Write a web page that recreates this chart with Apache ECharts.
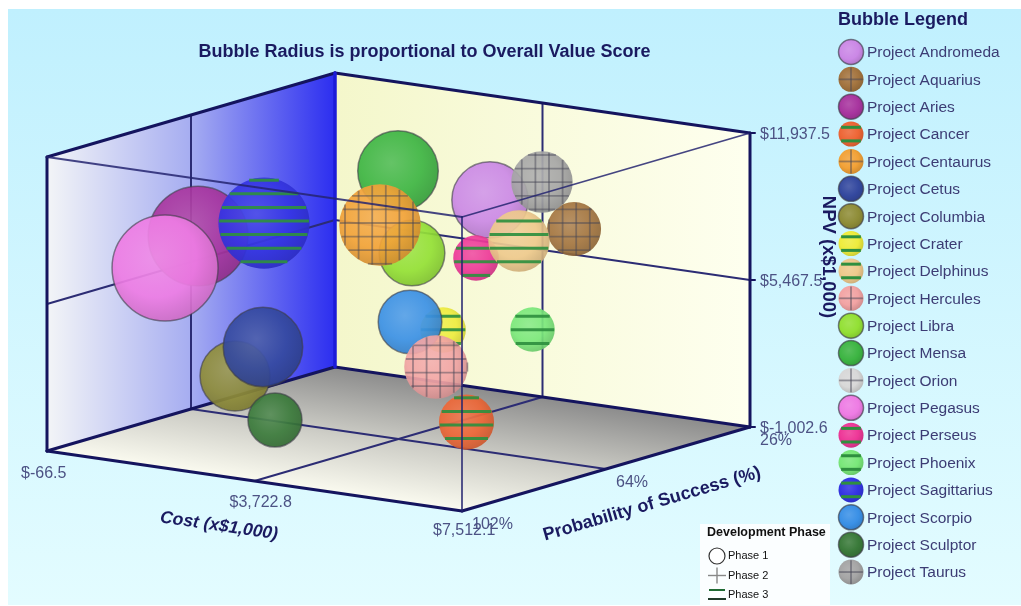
<!DOCTYPE html>
<html>
<head>
<meta charset="utf-8">
<style>html,body{margin:0;padding:0;background:#fff}#chart{width:1021px;height:606px}</style>
<script src="https://cdn.jsdelivr.net/npm/echarts@6/dist/echarts.min.js"></script>
</head>
<body>
<div id="chart"></div>
<script>
// Portfolio records; Orion has no plotted position.
var projects = ['Project Andromeda','Project Aquarius','Project Aries','Project Cancer','Project Centaurus','Project Cetus','Project Columbia','Project Crater','Project Delphinus','Project Hercules','Project Libra','Project Mensa','Project Orion','Project Pegasus','Project Perseus','Project Phoenix','Project Sagittarius','Project Scorpio','Project Sculptor','Project Taurus'];
var cost   = [3871, 5960,   62, 5380, 3108, 1663, 1014, 3429, 5370, 4408, 2585, 2053, null,  290, 3893, 5478, 1820, 3518, 2159, 5512];
var prob   = [  42,   50,   64,   70,   60,   70,   68,   48,   56,   64,   44,   40, null,   76,   46,   54,   72,   58,   74,   52];
var npv    = [8500, 8337, 6655,  612, 8007, 2619, 1022, 2914, 7897, 2404, 5815, 9044, null, 5912, 6146, 3940, 8227, 3786, -224,10348];
var score  = [  72,   51,   94,   52,   77,   75,   66,   43,   58,   60,   62,   76, null,  100,   43,   42,   86,   60,   51,   58];
var phase  = [   1,    2,    1,    3,    2,    1,    1,    3,    3,    2,    1,    1,    2,    1,    3,    3,    3,    1,    1,    2];
var colors = ['#cb88e6','#a47540','#a8359f','#ee6636','#f2a238','#34499f','#8f8d38','#eeec3e','#eec98c','#f2a4a4','#93e035','#3db543','#d8d8d8','#ee7ce4','#ee3898','#7ae87a','#3434e4','#3a90e6','#3a7a3a','#a6a6a6'];

var costTicks = [-66.5, 3722.8, 7512.1];
var probTicks = [26, 64, 102];
var npvTicks  = [-1002.6, 5467.5, 11937.5];
var phaseNames = ['Phase 1','Phase 2','Phase 3'];

var NAVY = '#14145e', LABEL = '#4c5284', TITLE = '#1a1a60', FONT = '"Liberation Sans", Arial, sans-serif';

// Fixed oblique view of the value cube: each unit axis maps onto a plane vector.
function project(c, p, n) {
  var u = (c - costTicks[0]) / (costTicks[2] - costTicks[0]);
  var v = (probTicks[2] - p) / (probTicks[2] - probTicks[0]);
  var w = (n - npvTicks[0]) / (npvTicks[2] - npvTicks[0]);
  return [47 + 415 * u + 288 * v, 451 + 60 * u - 84 * v - 294 * w];
}
function money(v) {
  var s = Math.abs(v).toFixed(1).replace(/\B(?=(\d{3})(?!\d))/g, ',');
  return '$' + (v < 0 ? '-' : '') + s;
}
function mix(hex, target, t) {
  var a = echarts.color.parse(hex), b = echarts.color.parse(target);
  return 'rgb(' + [0, 1, 2].map(function (i) { return Math.round(a[i] + (b[i] - a[i]) * t); }).join(',') + ')';
}

// Pattern lines crossing a circle, anchored to a shared lattice so neighbouring balls line up.
function chords(cx, cy, r, anchor, step, center, makeLine) {
  var k = Math.ceil((center - r - anchor) / step);
  for (; anchor + k * step < center + r; k++) {
    var d = anchor + k * step - center;
    var half = Math.sqrt(Math.max(0, r * r - d * d)) - 0.6;
    if (half > 1) makeLine(d, half);
  }
}

// A shaded ball: phase 1 plain, phase 2 cross-hatched, phase 3 banded.
function ball(cx, cy, r, color, ph, alpha, step, ax, ay) {
  var kids = [{
    type: 'circle', shape: { cx: cx, cy: cy, r: r },
    style: {
      fill: new echarts.graphic.RadialGradient(0.42, 0.4, 0.62, [
        { offset: 0, color: mix(color, '#ffffff', 0.14) },
        { offset: 0.6, color: color },
        { offset: 1, color: mix(color, '#000000', 0.14) }
      ]),
      stroke: ph === 1 ? 'rgba(60,60,70,0.65)' : null,
      lineWidth: ph === 1 ? 1.5 : 0,
      opacity: alpha
    }
  }];
  if (ph === 1) return kids;
  var ink = ph === 3 ? '#2f8f3f' : 'rgba(70,70,85,0.5)';
  var width = ph === 3 ? 3 : 1.8;
  chords(cx, cy, r, ay, step, cy, function (d, half) {
    kids.push({ type: 'line', shape: { x1: cx - half, y1: cy + d, x2: cx + half, y2: cy + d }, style: { stroke: ink, lineWidth: width, opacity: alpha } });
  });
  if (ph === 2) {
    chords(cx, cy, r, ax, step, cx, function (d, half) {
      kids.push({ type: 'line', shape: { x1: cx + d, y1: cy - half, x2: cx + d, y2: cy + half }, style: { stroke: ink, lineWidth: width, opacity: alpha } });
    });
  }
  return kids;
}

function segment(api, a, b, color, width) {
  var p = api.coord(a), q = api.coord(b);
  return { type: 'line', shape: { x1: p[0], y1: p[1], x2: q[0], y2: q[1] }, style: { stroke: color, lineWidth: width, lineCap: 'round' } };
}
function poly(api, pts, fill) {
  return { type: 'polygon', shape: { points: pts.map(function (d) { return api.coord(d); }) }, style: { fill: fill } };
}
function label(x, y, text, font, fill, rot, align) {
  return { type: 'text', x: x, y: y, rotation: rot || 0, style: { text: text, font: font, fill: fill, textAlign: align || 'left', textVerticalAlign: 'middle' } };
}

var cMin = costTicks[0], cMid = costTicks[1], cMax = costTicks[2];
var pBack = probTicks[0], pMid = probTicks[1], pFront = probTicks[2];
var nMin = npvTicks[0], nMid = npvTicks[1], nMax = npvTicks[2];

function renderCube(params, api) {
  var G = echarts.graphic, kids = [];
  kids.push(poly(api, [project(cMin, pFront, nMin), project(cMin, pBack, nMin), project(cMin, pBack, nMax), project(cMin, pFront, nMax)],
    new G.LinearGradient(0, 0, 1, 0, [{ offset: 0, color: '#f3f5f7' }, { offset: 0.5, color: '#a6adf1' }, { offset: 1, color: '#2c2ef0' }])));
  kids.push(poly(api, [project(cMin, pBack, nMin), project(cMax, pBack, nMin), project(cMax, pBack, nMax), project(cMin, pBack, nMax)],
    new G.LinearGradient(0, 0, 1, 0, [{ offset: 0, color: '#f4f7cb' }, { offset: 1, color: '#feffef' }])));

  // Floor shading runs from the back edge towards the viewer, square to that edge.
  var g0 = api.coord(project(cMin, pBack, nMin));
  var g1 = [g0[0] - 18, g0[1] + 124];
  kids.push(poly(api, [project(cMin, pFront, nMin), project(cMax, pFront, nMin), project(cMax, pBack, nMin), project(cMin, pBack, nMin)],
    new G.LinearGradient(g0[0], g0[1], g1[0], g1[1], [{ offset: 0, color: '#8c8c8c' }, { offset: 0.55, color: '#cfcfc8' }, { offset: 1, color: '#fbfbf0' }], true)));

  // Mid-value rules across walls and floor
  var rule = '#2c2c74';
  [[[cMid, pFront, nMin], [cMid, pBack, nMin]], [[cMin, pMid, nMin], [cMax, pMid, nMin]],
   [[cMin, pMid, nMin], [cMin, pMid, nMax]], [[cMin, pFront, nMid], [cMin, pBack, nMid]],
   [[cMid, pBack, nMin], [cMid, pBack, nMax]], [[cMin, pBack, nMid], [cMax, pBack, nMid]]].forEach(function (s) {
    kids.push(segment(api, project.apply(null, s[0]), project.apply(null, s[1]), rule, 2));
  });

  // Heavy cube outline
  [[[cMin, pFront, nMin], [cMin, pFront, nMax]], [[cMin, pFront, nMax], [cMin, pBack, nMax]], [[cMin, pBack, nMax], [cMax, pBack, nMax]],
   [[cMax, pBack, nMax], [cMax, pBack, nMin]], [[cMin, pFront, nMin], [cMax, pFront, nMin]], [[cMax, pFront, nMin], [cMax, pBack, nMin]],
   [[cMax, pBack, nMin], [cMin, pBack, nMin]], [[cMin, pBack, nMin], [cMin, pFront, nMin]]].forEach(function (s) {
    kids.push(segment(api, project.apply(null, s[0]), project.apply(null, s[1]), NAVY, 3));
  });
  kids.push(segment(api, project(cMin, pBack, nMin), project(cMin, pBack, nMax), '#1c1cd8', 3.5));
  return { type: 'group', children: kids };
}

function renderBubble(params, api) {
  var i = api.value(5);
  var at = api.coord(project(api.value(0), api.value(1), api.value(2)));
  var r = api.value(3) * 0.53;
  return { type: 'group', children: ball(at[0], at[1], r, colors[i], phase[i], 0.92, 13.6, 345, phase[i] === 3 ? 221 : 223) };
}

function renderFrontEdges(params, api) {
  var c = 'rgba(36,36,112,0.85)';
  return { type: 'group', children: [
    segment(api, project(cMin, pFront, nMax), project(cMax, pFront, nMax), c, 1.8),
    segment(api, project(cMax, pFront, nMax), project(cMax, pBack, nMax), c, 1.8),
    segment(api, project(cMax, pFront, nMax), project(cMax, pFront, nMin), c, 1.8)
  ] };
}

function renderAxisText(params, api) {
  var f = '16px ' + FONT, kids = [];
  var cOff = [[-26, 23], [-25, 22], [-29, 20]];
  costTicks.forEach(function (t, k) {
    var p = api.coord(project(t, pFront, nMin));
    kids.push(label(p[0] + cOff[k][0], p[1] + cOff[k][1], money(t), f, LABEL));
  });
  probTicks.forEach(function (t, k) {
    var p = api.coord(project(cMax, t, nMin));
    kids.push(label(p[0] + 10, p[1] + 14, t + '%', f, LABEL));
  });
  npvTicks.forEach(function (t) {
    var p = api.coord(project(cMax, pBack, t));
    kids.push(segment(api, project(cMax, pBack, t), [project(cMax, pBack, t)[0] + 5, project(cMax, pBack, t)[1]], NAVY, 2));
    kids.push(label(p[0] + 10, p[1] + 1.5, money(t), f, LABEL));
  });
  var b = 'bold 18px ' + FONT;
  kids.push(label(424.5, 52, 'Bubble Radius is proportional to Overall Value Score', b, TITLE, 0, 'center'));
  kids.push(label(219, 526, 'Cost (x$1,000)', 'italic bold 17.5px ' + FONT, TITLE, -0.145, 'center'));
  kids.push(label(652, 504, 'Probability of Success (%)', b, TITLE, 0.285, 'center'));
  kids.push(label(828, 257, 'NPV (x$1,000)', 'bold 18.5px ' + FONT, TITLE, -Math.PI / 2, 'center'));
  return { type: 'group', children: kids };
}

function renderBubbleLegend(params, api) {
  var i = params.dataIndex;
  var y = 52 + i * 27.37;
  var kids = ball(851, y, 12.5, colors[i], phase[i], 1, 13.6, 851, phase[i] === 3 ? y + 6.8 : y);
  kids.push(label(867, y + 1, projects[i], '15.5px ' + FONT, '#3c3c74'));
  return { type: 'group', children: kids };
}

function renderPhaseLegend(params, api) {
  var i = params.dataIndex;
  var y = 556 + i * 19.5;
  var kids = [];
  if (i === 0) kids.push({ type: 'circle', shape: { cx: 717, cy: y, r: 8 }, style: { fill: '#fff', stroke: '#333', lineWidth: 1.2 } });
  if (i === 1) {
    kids.push({ type: 'line', shape: { x1: 708, y1: y, x2: 726, y2: y }, style: { stroke: '#888', lineWidth: 1.4 } });
    kids.push({ type: 'line', shape: { x1: 717, y1: y - 8, x2: 717, y2: y + 8 }, style: { stroke: '#888', lineWidth: 1.4 } });
  }
  if (i === 2) {
    kids.push({ type: 'line', shape: { x1: 709, y1: y - 5, x2: 725, y2: y - 5 }, style: { stroke: '#1f6a33', lineWidth: 2 } });
    kids.push({ type: 'line', shape: { x1: 708, y1: y + 4, x2: 726, y2: y + 4 }, style: { stroke: '#1f3a2a', lineWidth: 2 } });
  }
  kids.push(label(728, y, phaseNames[i], '11px ' + FONT, '#111'));
  return { type: 'group', children: kids };
}

// Bubbles are painted back to front along the probability axis.
var bubbleRows = projects.map(function (n, i) {
  return [cost[i], prob[i], npv[i], score[i], n, i];
}).filter(function (d) { return d[0] !== null; }).sort(function (a, b) { return a[1] - b[1]; });

var chart = echarts.init(document.getElementById('chart'), null, { renderer: 'canvas' });
function layer(name, z, render, data, dims) {
  return { type: 'custom', name: name, coordinateSystem: 'cartesian2d', z: z, clip: false, silent: true, renderItem: render, data: data, encode: dims || { x: 0, y: 1 } };
}
chart.setOption({
  animation: false,
  backgroundColor: '#ffffff',
  tooltip: { show: false },
  grid: { left: 0, right: 0, top: 0, bottom: 0 },
  xAxis: { type: 'value', min: 0, max: 1021, show: false },
  yAxis: { type: 'value', min: 0, max: 606, inverse: true, show: false },
  graphic: [
    { type: 'rect', z: -10, silent: true, shape: { x: 8, y: 9, width: 1013, height: 596 },
      style: { fill: new echarts.graphic.LinearGradient(0, 0, 0, 1, [{ offset: 0, color: '#c0f0fe' }, { offset: 1, color: '#e3fcff' }]) } },
    { type: 'rect', z: -9, silent: true, shape: { x: 700, y: 524, width: 130, height: 82 }, style: { fill: '#fbfeff' } },
    { type: 'text', z: 10, silent: true, x: 707, y: 533, style: { text: 'Development Phase', font: 'bold 12.5px ' + FONT, fill: '#111', textVerticalAlign: 'middle' } },
    { type: 'text', z: 10, silent: true, x: 838, y: 20, style: { text: 'Bubble Legend', font: 'bold 18px ' + FONT, fill: TITLE, textVerticalAlign: 'middle' } }
  ],
  series: [
    layer('cube', 1, renderCube, [[0, 0]]),
    layer('bubbles', 2, renderBubble, bubbleRows, { x: 0, y: 1 }),
    layer('front edges', 3, renderFrontEdges, [[0, 0]]),
    layer('axis text', 4, renderAxisText, [[0, 0]]),
    layer('bubble legend', 4, renderBubbleLegend, projects.map(function (n, i) { return [i, 0]; })),
    layer('phase legend', 4, renderPhaseLegend, phaseNames.map(function (n, i) { return [i, 0]; }))
  ]
});
</script>
</body>
</html>
